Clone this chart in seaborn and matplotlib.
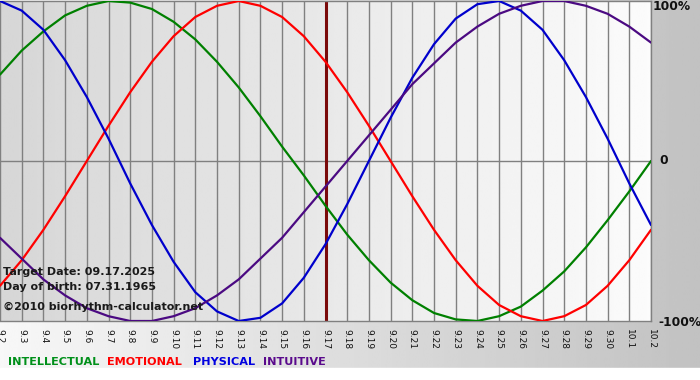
import numpy as np
import pandas as pd
import matplotlib
matplotlib.use("Agg")
import matplotlib.pyplot as plt
import seaborn as sns

# ---- data (percent) ----
dates = ["9.2", "9.3", "9.4", "9.5", "9.6", "9.7", "9.8", "9.9", "9.10", "9.11",
         "9.12", "9.13", "9.14", "9.15", "9.16", "9.17", "9.18", "9.19", "9.20",
         "9.21", "9.22", "9.23", "9.24", "9.25", "9.26", "9.27", "9.28", "9.29",
         "9.30", "10.1", "10.2"]
physical = [100, 94, 82, 63, 40, 14, -14, -40, -63, -82, -94, -100, -98, -89, -73,
            -52, -27, 0, 27, 52, 73, 89, 98, 100, 94, 82, 63, 40, 14, -14, -40]
emotional = [-78, -62, -43, -22, 0, 22, 43, 62, 78, 90, 97, 100, 97, 90, 78, 62,
             43, 22, 0, -22, -43, -62, -78, -90, -97, -100, -97, -90, -78, -62, -43]
intellectual = [54, 69, 81, 91, 97, 100, 99, 95, 87, 76, 62, 46, 28, 9, -9, -28,
                -46, -62, -76, -87, -95, -99, -100, -97, -91, -81, -69, -54, -37, -19, 0]
intuitive = [-48, -61, -74, -84, -92, -97, -100, -100, -97, -92, -84, -74, -61, -48,
             -32, -16, 0, 16, 32, 48, 61, 74, 84, 92, 97, 100, 100, 97, 92, 84, 74]
series_names = ["INTELLECTUAL", "EMOTIONAL", "PHYSICAL", "INTUITIVE"]
target_label = "9.17"
texts = ["Target Date: 09.17.2025", "Day of birth: 07.31.1965",
         "\u00a92010 biorhythm-calculator.net"]
ylabels = ["100%", "0", "-100%"]

colors = {"INTELLECTUAL": "#008000", "EMOTIONAL": "#ff0000",
          "PHYSICAL": "#0000cc", "INTUITIVE": "#4b0a82"}
text_colors = {"INTELLECTUAL": "#00901a", "EMOTIONAL": "#ff0000",
               "PHYSICAL": "#0000e0", "INTUITIVE": "#5a0a8c"}

idx = np.arange(len(dates))
df = pd.concat([
    pd.DataFrame({"day": idx, "value": vals, "series": name})
    for name, vals in zip(series_names, [intellectual, emotional, physical, intuitive])
])

sns.set_theme(style="white")
plt.rcParams["font.family"] = ["DejaVu Sans"]

W, H = 700, 380
fig = plt.figure(figsize=(W / 100, H / 100), dpi=100)

# figure background: horizontal gradient white -> grey, white strip at the bottom
bg = fig.add_axes([0, 0, 1, 1], zorder=-10)
grad = np.linspace(0.97, 0.76, 256).reshape(1, -1)
bg.imshow(grad, cmap="gray", vmin=0, vmax=1, aspect="auto",
          extent=[0, 1, 0, 1], interpolation="bilinear")
bg.add_patch(plt.Rectangle((0, 0), 1, 12 / H, color="white", transform=bg.transAxes))
bg.set_axis_off()

L, R, T, B = 0, 651, 1, 321
ax = fig.add_axes([L / W, 1 - B / H, (R - L) / W, (B - T) / H])
ax.set_xlim(0, len(dates) - 1)
ax.set_ylim(-100, 100)

# plot background gradient
pg = np.linspace(0.84, 0.985, 256).reshape(1, -1)
ax.imshow(pg, cmap="gray", vmin=0, vmax=1, aspect="auto",
          extent=[0, len(dates) - 1, -100, 100], interpolation="bilinear", zorder=0)

for x in idx:
    ax.axvline(x, color="#808080", lw=1, zorder=1)
ax.axhline(0, color="#808080", lw=1, zorder=1)

tpos = dates.index(target_label)
ax.axvline(tpos, color="#7a0a0a", lw=2.2, zorder=2)

sns.lineplot(data=df, x="day", y="value", hue="series", palette=colors,
             hue_order=series_names, lw=1.6, ax=ax, legend=False, zorder=3)

ax.set_xticks(idx)
ax.set_xticklabels(dates, rotation=-90, fontsize=6.5, color="#111111")
ax.tick_params(axis="x", length=5, width=1, color="#808080", pad=1, direction="out")
ax.set_yticks([])
ax.set_xlabel("")
ax.set_ylabel("")
for s in ax.spines.values():
    s.set_color("#808080")
    s.set_linewidth(1)
ax.spines["left"].set_visible(False)

# info text
for txt, yy in zip(texts, [272, 287, 307]):
    fig.text(3 / W, 1 - yy / H, txt, fontsize=8.0, fontweight="bold",
             color="#1a1a1a", va="center", ha="left")

# right-side labels
for lab, (xx, yy) in zip(ylabels, [(653, 7), (659, 161), (658, 322)]):
    fig.text(xx / W, 1 - yy / H, lab, fontsize=8.8, fontweight="bold",
             color="#111111", va="center", ha="left")

# legend words
for name, xx in zip(series_names, [8, 107, 193, 263]):
    fig.text(xx / W, 1 - 362 / H, name, fontsize=8.1, fontweight="bold",
             color=text_colors[name], va="center", ha="left")

fig.savefig("out.png", dpi=100)
